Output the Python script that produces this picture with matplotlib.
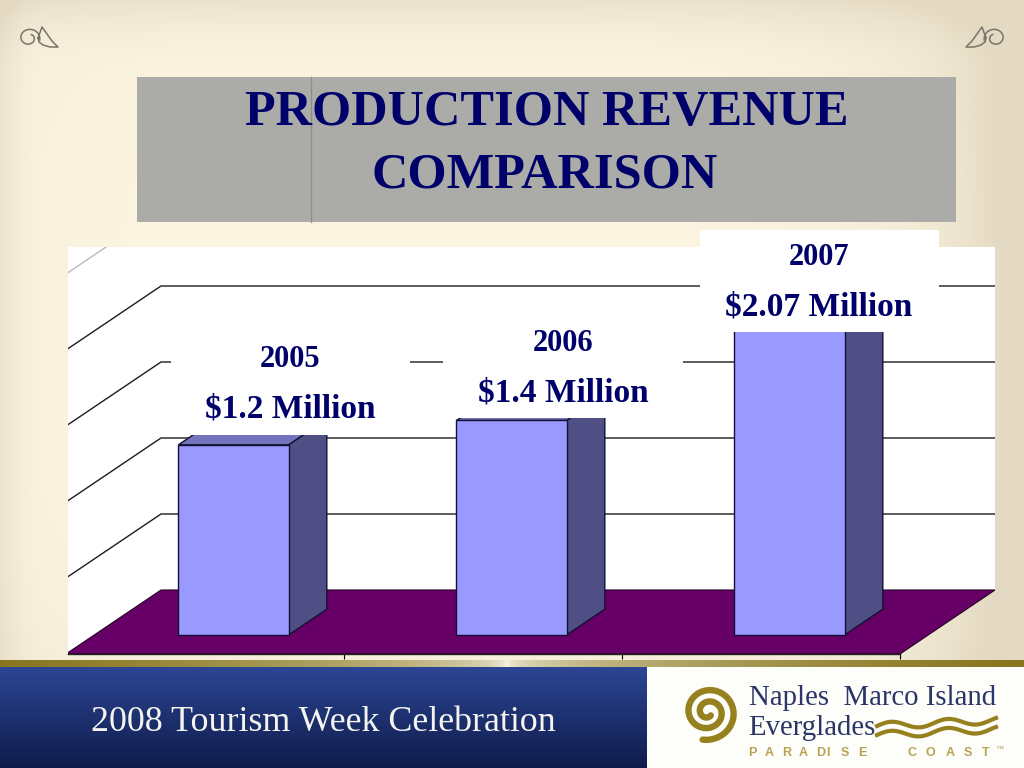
import numpy as np
import matplotlib
matplotlib.use("Agg")
import matplotlib.pyplot as plt
from matplotlib.patches import Polygon, Rectangle

# values
years = ["2005", "2006", "2007"]
revenue = [1.25, 1.41, 2.07]
revenue_labels = ["$1.2 Million", "$1.4 Million", "$2.07 Million"]
grid_values = [0.5, 1.0, 1.5, 2.0, 2.5]
category_ticks = [1, 2, 3]

NAVY = "#00006B"
GOLD = "#97811F"
SERIF = "Liberation Serif"

# oblique projection of the 3d chart
DEPTH_X = 95 / 278
DEPTH_Y = 64 / 152


def project(x, v, d):
    return x + DEPTH_X * d, v + DEPTH_Y * d


def poly(points):
    return [project(*p) for p in points]


fig = plt.figure(figsize=(10.24, 7.68), dpi=100)

# page background
ax_bg = fig.add_axes([0, 0, 1, 1], zorder=0)
ax_bg.set_axis_off()
yy, xx = np.mgrid[0:768, 0:1024]
u = np.abs(xx / 1024 - 0.4) / 0.6
v = np.abs(yy / 768 - 0.42) / 0.58
t = np.clip(0.75 * u ** 4 + 0.55 * v ** 4 + 0.55 * (np.clip(xx / 1024 - 0.88, 0, 1) / 0.12) ** 2
            + 0.5 * np.clip(1 - yy / 70, 0, 1) ** 2
            + 0.45 * np.clip(1 - xx / 45, 0, 1) ** 2, 0, 1)[..., None]
center = np.array([252, 245, 226]) / 255
edge = np.array([228, 217, 194]) / 255
ax_bg.imshow(center * (1 - t) + edge * t, extent=[0, 1024, 768, 0], aspect="auto")

# chart axes, x in categories and y in revenue
ax = fig.add_axes([68 / 1024, 114 / 768, 927 / 1024, 407 / 768], zorder=1)
ax.patch.set_alpha(0)
xmin = 2 / 278
xmax = xmin + 927 / 278
ymax = 407 / 152
ax.set_xlim(xmin, xmax)
ax.set_ylim(0, ymax)

wall = [(xmin, 0), (xmin, ymax), (xmax, ymax), project(3, 0, 1), (3, 0)]
ax.add_patch(Polygon(wall, closed=True, fc="white", ec="none", zorder=1))
ax.add_patch(Polygon(poly([(0, 0, 0), (3, 0, 0), (3, 0, 1), (0, 0, 1)]), closed=True,
                     fc="#660066", ec="#220022", lw=0.8, zorder=2))

for g in grid_values:
    pts = poly([(0, g, 0), (0, g, 1), (3, g, 1)])
    color = "#bbbbbb" if g > 2.2 else "#1c1c1c"
    ax.plot([p[0] for p in pts], [p[1] for p in pts], color=color, lw=1.0, zorder=1.5)

# bars
bar_w = 0.397
d0, d1 = 0.3, 0.7
for i, val in enumerate(revenue):
    x0 = i + 0.302
    x1 = x0 + bar_w
    ax.add_patch(Polygon(poly([(x0, val, d0), (x1, val, d0), (x1, val, d1), (x0, val, d1)]),
                         closed=True, fc="#7474BE", ec="#111133", lw=1, zorder=3))
    ax.add_patch(Polygon(poly([(x1, 0, d0), (x1, 0, d1), (x1, val, d1), (x1, val, d0)]),
                         closed=True, fc="#4F4F85", ec="#111133", lw=1, zorder=3))
    ax.add_patch(Polygon(poly([(x0, 0, d0), (x1, 0, d0), (x1, val, d0), (x0, val, d0)]),
                         closed=True, fc="#9999FF", ec="#111133", lw=1, zorder=4))

ax.set_yticks([])
ax.set_xticks(category_ticks)
ax.set_xticklabels([])
ax.tick_params(axis="x", direction="out", length=3.6, width=0.8, color="black")
for side in ["top", "left", "right"]:
    ax.spines[side].set_visible(False)
ax.spines["bottom"].set_bounds(xmin, 3)
ax.spines["bottom"].set_color("#222222")
ax.spines["bottom"].set_linewidth(1.0)

# everything else is laid out in pixels on top of the chart
top = fig.add_axes([0, 0, 1, 1], zorder=2)
top.set_xlim(0, 1024)
top.set_ylim(768, 0)
top.set_axis_off()
top.patch.set_alpha(0)

# title block
top.add_patch(Rectangle((137, 77), 819, 145, fc="#ABABA8", ec="none"))
top.plot([311, 311], [77, 222], color="#8C8C8A", lw=0.9)
top.text(547, 125, "PRODUCTION REVENUE", family=SERIF, weight="bold", fontsize=36.3,
         color=NAVY, ha="center", va="baseline")
top.text(545, 187, "COMPARISON", family=SERIF, weight="bold", fontsize=36.3,
         color=NAVY, ha="center", va="baseline")

# white label boxes over the chart
boxes = [(171, 335, 239, 100), (443, 319, 240, 99), (700, 230, 239, 102)]
year_pos = [(290, 367), (563, 351), (819, 265)]
value_pos = [(290, 418), (563, 402), (819, 316)]
for b, yp, vp, yr, lab in zip(boxes, year_pos, value_pos, years, revenue_labels):
    top.add_patch(Rectangle((b[0], b[1]), b[2], b[3], fc="white", ec="none"))
    top.text(yp[0], yp[1], yr, family=SERIF, weight="bold", fontsize=22, color=NAVY,
             ha="center", va="baseline")
    top.text(vp[0], vp[1], lab, family=SERIF, weight="bold", fontsize=24, color=NAVY,
             ha="center", va="baseline")

# corner ornaments
s = np.linspace(0, 1, 120)
leaf_x = np.array([38, 42, 47, 52, 58, 50, 43, 39, 38])
leaf_y = np.array([38, 27, 34, 41, 47, 47, 45, 42, 38])
for sign, offset in [(1, 0), (-1, 1024)]:
    tx = lambda a: offset + sign * a
    top.plot(tx(29 + 11 * (1 - 0.6 * s) * np.cos(0.2 - 7.5 * s)),
             38 + 10 * (1 - 0.6 * s) * np.sin(0.2 - 7.5 * s), color="#77756A", lw=1.1)
    top.plot(tx(leaf_x), leaf_y, color="#77756A", lw=1.1)

# footer band
band = np.abs(np.linspace(-1, 1, 1024) + 0.01) ** 0.38
band_rgb = np.array([252, 250, 240]) / 255 * (1 - band[None, :, None]) + \
    np.array([135, 118, 30]) / 255 * band[None, :, None]
top.imshow(band_rgb, extent=[0, 1024, 667, 660], aspect="auto", zorder=1)

blue = np.linspace(0, 1, 101)[:, None, None]
blue_rgb = np.array([44, 70, 148]) / 255 * (1 - blue) + np.array([15, 27, 75]) / 255 * blue
top.imshow(blue_rgb, extent=[0, 647, 768, 667], aspect="auto", zorder=1)
top.add_patch(Rectangle((647, 667), 377, 101, fc="#FDFDFA", ec="none", zorder=1))
top.set_xlim(0, 1024)
top.set_ylim(768, 0)

top.text(323, 731, "2008 Tourism Week Celebration", family=SERIF, fontsize=25.8,
         color="#F4F4F0", ha="center", va="baseline", zorder=3)

# logo
th = np.linspace(0.4, 4.4 * np.pi, 300)
r = 4 + 25 * (th / th.max()) ** 1.1
top.plot(708 + r * np.cos(th + 0.5), 712 + 0.97 * r * np.sin(th + 0.5), color=GOLD, lw=4.6,
         zorder=3, solid_capstyle="round")
top.text(749, 705, "Naples  Marco Island", family=SERIF, fontsize=20.7, color="#2B3568",
         ha="left", va="baseline", zorder=3)
top.text(748, 735, "Everglades", family=SERIF, fontsize=20.7, color="#2B3568",
         ha="left", va="baseline", zorder=3)
wx = np.linspace(877, 996, 120)
for y0, amp in [(726, 3.5), (735, 3.5)]:
    top.plot(wx, y0 - amp * np.sin((wx - 877) / 119 * 2 * np.pi * 2.1) - (wx - 877) * 0.05,
             color=GOLD, lw=3, zorder=3)
tag_x = [748, 765, 782, 799, 816, 826, 841, 858, 908, 926, 946, 964, 982]
for letter, lx in zip("PARADISECOAST", tag_x):
    top.text(lx, 756, letter, family="Liberation Sans", weight="bold", fontsize=9,
             color="#B7A453", ha="left", va="baseline", zorder=3)
top.text(995, 751, "\u2122", family="Liberation Sans", fontsize=6,
         color="#B7A453", ha="left", va="baseline", zorder=3)

fig.savefig("out.png", dpi=100)
